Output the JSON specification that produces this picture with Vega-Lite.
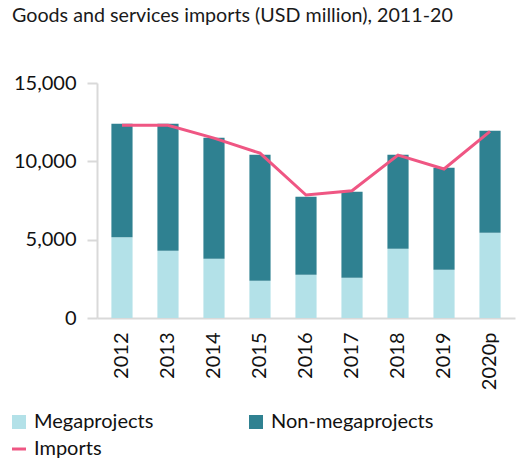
{
  "$schema": "https://vega.github.io/schema/vega-lite/v6.json",
  "width": 418,
  "height": 235,
  "autosize": {"type": "none"},
  "padding": {"left": 97, "top": 83, "right": 11, "bottom": 143},
  "background": "white",
  "config": {
    "font": "Lato",
    "view": {"stroke": null},
    "legend": {
      "orient": "none",
      "legendX": -88,
      "legendY": 329,
      "direction": "horizontal",
      "columns": 2,
      "columnPadding": 92,
      "rowPadding": 7,
      "symbolSize": 196,
      "labelFontSize": 20,
      "labelColor": "#111111",
      "labelOffset": 5,
      "labelLimit": 300
    }
  },
  "title": {
    "text": "Goods  and services imports (USD million), 2011-20",
    "anchor": "start",
    "frame": "group",
    "dx": -85,
    "fontSize": 19.7,
    "fontWeight": "normal",
    "color": "#1a1a1a",
    "offset": 47
  },
  "datasets": {
    "bars": [
      {"year": "2012", "series": "Megaprojects", "ord": 1, "value": 5150},
      {"year": "2012", "series": "Non-megaprojects", "ord": 2, "value": 7250},
      {"year": "2013", "series": "Megaprojects", "ord": 1, "value": 4300},
      {"year": "2013", "series": "Non-megaprojects", "ord": 2, "value": 8100},
      {"year": "2014", "series": "Megaprojects", "ord": 1, "value": 3780},
      {"year": "2014", "series": "Non-megaprojects", "ord": 2, "value": 7720},
      {"year": "2015", "series": "Megaprojects", "ord": 1, "value": 2380},
      {"year": "2015", "series": "Non-megaprojects", "ord": 2, "value": 8040},
      {"year": "2016", "series": "Megaprojects", "ord": 1, "value": 2760},
      {"year": "2016", "series": "Non-megaprojects", "ord": 2, "value": 4980},
      {"year": "2017", "series": "Megaprojects", "ord": 1, "value": 2570},
      {"year": "2017", "series": "Non-megaprojects", "ord": 2, "value": 5490},
      {"year": "2018", "series": "Megaprojects", "ord": 1, "value": 4420},
      {"year": "2018", "series": "Non-megaprojects", "ord": 2, "value": 6000},
      {"year": "2019", "series": "Megaprojects", "ord": 1, "value": 3080},
      {"year": "2019", "series": "Non-megaprojects", "ord": 2, "value": 6510},
      {"year": "2020p", "series": "Megaprojects", "ord": 1, "value": 5440},
      {"year": "2020p", "series": "Non-megaprojects", "ord": 2, "value": 6510}
    ],
    "imports": [
      {"year": "2012", "series": "Imports", "value": 12300},
      {"year": "2013", "series": "Imports", "value": 12300},
      {"year": "2014", "series": "Imports", "value": 11480},
      {"year": "2015", "series": "Imports", "value": 10520},
      {"year": "2016", "series": "Imports", "value": 7850},
      {"year": "2017", "series": "Imports", "value": 8120},
      {"year": "2018", "series": "Imports", "value": 10400},
      {"year": "2019", "series": "Imports", "value": 9510},
      {"year": "2020p", "series": "Imports", "value": 11910}
    ]
  },
  "encoding": {
    "x": {
      "field": "year",
      "type": "nominal",
      "scale": {"paddingInner": 0.54, "paddingOuter": 0.313},
      "axis": {
        "title": null,
        "labelAngle": -90,
        "labelFontSize": 20,
        "labelColor": "#111111",
        "labelPadding": 14,
        "ticks": false,
        "domainColor": "#d9d9d9",
        "domainWidth": 2
      }
    }
  },
  "layer": [
    {
      "data": {"name": "bars"},
      "mark": {"type": "bar"},
      "encoding": {
        "y": {
          "field": "value",
          "type": "quantitative",
          "stack": "zero",
          "scale": {"domain": [0, 15000], "nice": false},
          "axis": {
            "title": null,
            "values": [0, 5000, 10000, 15000],
            "format": ",.0f",
            "grid": false,
            "labelFontSize": 20,
            "labelColor": "#111111",
            "labelPadding": 11,
            "tickSize": 10,
            "tickWidth": 2,
            "tickColor": "#d9d9d9",
            "domainColor": "#d9d9d9",
            "domainWidth": 2
          }
        },
        "color": {
          "field": "series",
          "type": "nominal",
          "scale": {
            "domain": ["Megaprojects", "Non-megaprojects", "Imports"],
            "range": ["#b3e1e8", "#2f8191", "#ef5683"]
          },
          "legend": {
            "title": null,
            "encode": {
              "symbols": {
                "update": {
                  "shape": {"signal": "datum.value === 'Imports' ? 'stroke' : 'square'"},
                  "fill": {"scale": "color", "field": "value"},
                  "stroke": {"scale": "color", "field": "value"},
                  "strokeWidth": {"signal": "datum.value === 'Imports' ? 3 : 0"},
                  "opacity": {"value": 1}
                }
              }
            }
          }
        },
        "order": {"field": "ord", "type": "quantitative"}
      }
    },
    {
      "data": {"name": "imports"},
      "mark": {"type": "line", "strokeWidth": 3},
      "encoding": {
        "y": {"field": "value", "type": "quantitative"},
        "color": {"field": "series", "type": "nominal"}
      }
    }
  ]
}
